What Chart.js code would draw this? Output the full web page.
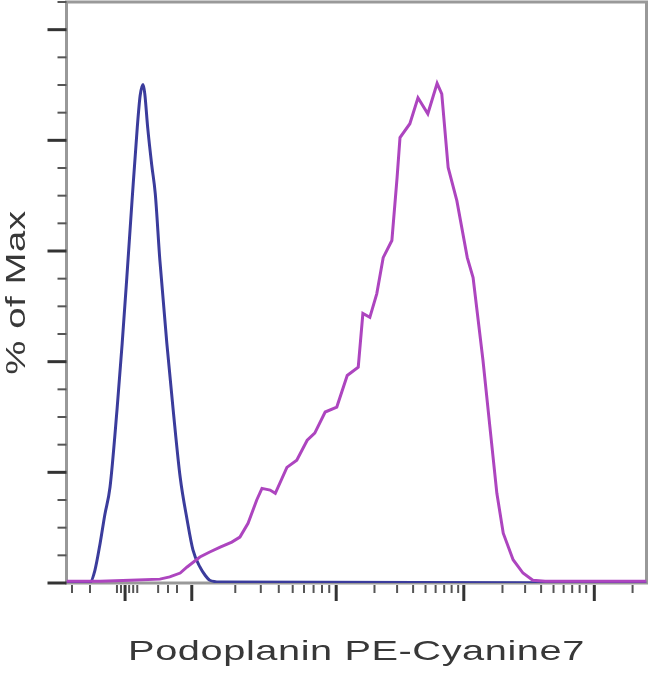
<!DOCTYPE html>
<html lang="en">
<head>
    <meta charset="utf-8" />
	<title>Podoplanin PE-Cyanine7</title>
	<script src="https://cdn.jsdelivr.net/npm/chart.js@4.4.1/dist/chart.umd.min.js"></script>
	<style>
		html, body { margin: 0; padding: 0; background: #fff; }
		#histo { display: block; }
	</style>
</head>

<body>
	<canvas id="histo" width="650" height="677"></canvas>

	<script>
		// channel scale 0..1000 (biexponential display), % of max on y
		var isotypeX = [0, 40, 49, 58, 66, 75, 87, 96, 104, 113, 122, 127, 132, 135, 140, 147, 153, 161, 173, 184, 196, 208, 218, 230, 239, 247, 265, 1000];
		var isotypeY = [0, 0, 2.3, 7.2, 12.3, 17.3, 31.2, 43.3, 55.2, 69.1, 82.3, 88.1, 90.1, 88.4, 82.3, 75.5, 70.4, 58.3, 43.3, 31.2, 19.1, 11.4, 6.0, 2.9, 1.4, 0.5, 0.2, 0];

		var stainedX = [0, 58, 110, 161, 178, 196, 208, 230, 247, 265, 285, 299, 313, 328, 337, 351, 360, 380, 397, 415, 428, 446, 466, 484, 503, 511, 523, 535, 546, 561, 570, 575, 592, 606, 623, 639, 647, 658, 673, 691, 701, 718, 730, 742, 753, 770, 787, 804, 825, 1000];
		var stainedY = [0.3, 0.3, 0.5, 0.7, 1.1, 1.8, 2.9, 4.7, 5.6, 6.5, 7.4, 8.3, 10.8, 15.0, 17.1, 16.8, 16.2, 20.9, 22.2, 25.8, 27.1, 30.9, 31.8, 37.5, 39.0, 48.7, 48.0, 52.3, 58.8, 61.9, 73.3, 80.5, 83.0, 87.7, 84.8, 90.3, 88.4, 75.1, 69.1, 58.8, 55.2, 40.3, 28.2, 16.2, 9.0, 4.2, 1.8, 0.5, 0.3, 0.3];

		var xMajorTicks = [101, 216, 465, 685, 910];
		var xMinorTicks = [9.5, 40.5, 87, 94, 108, 115, 122, 158, 175, 190.5, 291, 335, 366, 390, 409.5, 426, 440.5, 453, 531, 570, 597.6, 619, 636.4, 651.2, 664, 675.3, 751.7, 790.7, 818.3, 839.7, 857.1, 871.9, 884.7, 896, 976];
		var yMajorTicks = [0, 20, 40, 60, 80, 100];
		var yMinorTicks = [5, 10, 15, 25, 30, 35, 45, 50, 55, 65, 70, 75, 85, 90, 95, 105];

		var xTitle = "Podoplanin PE-Cyanine7";
		var yTitle = "% of Max";

		function pairs(xs, ys) {
			return xs.map((x, i) => ({ x: x, y: ys[i] }));
		}

		// frame round the plot area, drawn under the curves
		var framePlugin = {
			id: 'frame',
			beforeDatasetsDraw(chart) {
				let ctx = chart.ctx, a = chart.chartArea;
				ctx.save();
				ctx.strokeStyle = '#999';
				ctx.lineWidth = 3;
				ctx.strokeRect(a.left, a.top, a.right - a.left, a.bottom - a.top);
				ctx.restore();
			}
		};

		// major / minor tick marks and the wide axis titles
		var axisPlugin = {
			id: 'axisMarks',
			afterDraw(chart) {
				let ctx = chart.ctx, a = chart.chartArea;
				let xs = chart.scales.x, ys = chart.scales.y;
				ctx.save();
				ctx.lineCap = 'butt';

				ctx.strokeStyle = '#333';
				ctx.lineWidth = 3;
				yMajorTicks.forEach(v => {
					let p = ys.getPixelForValue(v);
					ctx.beginPath(); ctx.moveTo(a.left - 19, p); ctx.lineTo(a.left, p); ctx.stroke();
				});
				xMajorTicks.forEach(v => {
					let p = xs.getPixelForValue(v);
					ctx.beginPath(); ctx.moveTo(p, a.bottom + 2); ctx.lineTo(p, a.bottom + 18); ctx.stroke();
				});

				ctx.strokeStyle = '#555';
				ctx.lineWidth = 2;
				yMinorTicks.forEach(v => {
					let p = ys.getPixelForValue(v);
					ctx.beginPath(); ctx.moveTo(a.left - 9, p); ctx.lineTo(a.left, p); ctx.stroke();
				});
				xMinorTicks.forEach(v => {
					let p = xs.getPixelForValue(v);
					ctx.beginPath(); ctx.moveTo(p, a.bottom + 2); ctx.lineTo(p, a.bottom + 10); ctx.stroke();
				});

				ctx.fillStyle = '#383838';
				ctx.textAlign = 'center';
				ctx.textBaseline = 'alphabetic';
				ctx.font = '28px "Liberation Sans", Arial, sans-serif';
				ctx.letterSpacing = '0.4px';

				ctx.save();
				ctx.translate((a.left + a.right) / 2, a.bottom + 77);
				ctx.scale(1.42, 1);
				ctx.fillText(xTitle, 0, 0);
				ctx.restore();

				ctx.font = '27px "Liberation Sans", Arial, sans-serif';
				ctx.save();
				ctx.translate(a.left - 42, (a.top + a.bottom) / 2);
				ctx.rotate(-Math.PI / 2);
				ctx.scale(1.42, 1);
				ctx.fillText(yTitle, 0, 0);
				ctx.restore();

				ctx.restore();
			}
		};

		var chart = new Chart(document.getElementById('histo'), {
			type: 'scatter',
			data: {
				datasets: [
					{
						label: 'Podoplanin PE-Cyanine7',
						data: pairs(stainedX, stainedY),
						showLine: true,
						borderColor: '#ad45bf',
						borderWidth: 3,
						pointRadius: 0,
						tension: 0
					},
					{
						label: 'Isotype',
						data: pairs(isotypeX, isotypeY),
						showLine: true,
						borderColor: '#3b3c9c',
						borderWidth: 3,
						pointRadius: 0,
						cubicInterpolationMode: 'monotone'
					}
				]
			},
			options: {
				responsive: false,
				animation: false,
				devicePixelRatio: 1,
				layout: {
					padding: { left: 66.5, top: 2, right: 3.5, bottom: 94 }
				},
				plugins: {
					legend: { display: false },
					tooltip: { enabled: false }
				},
				scales: {
					x: { type: 'linear', min: 0, max: 1000, display: false },
					y: { type: 'linear', min: 0, max: 105, display: false }
				}
			},
			plugins: [framePlugin, axisPlugin]
		});
	</script>
</body>

</html>
